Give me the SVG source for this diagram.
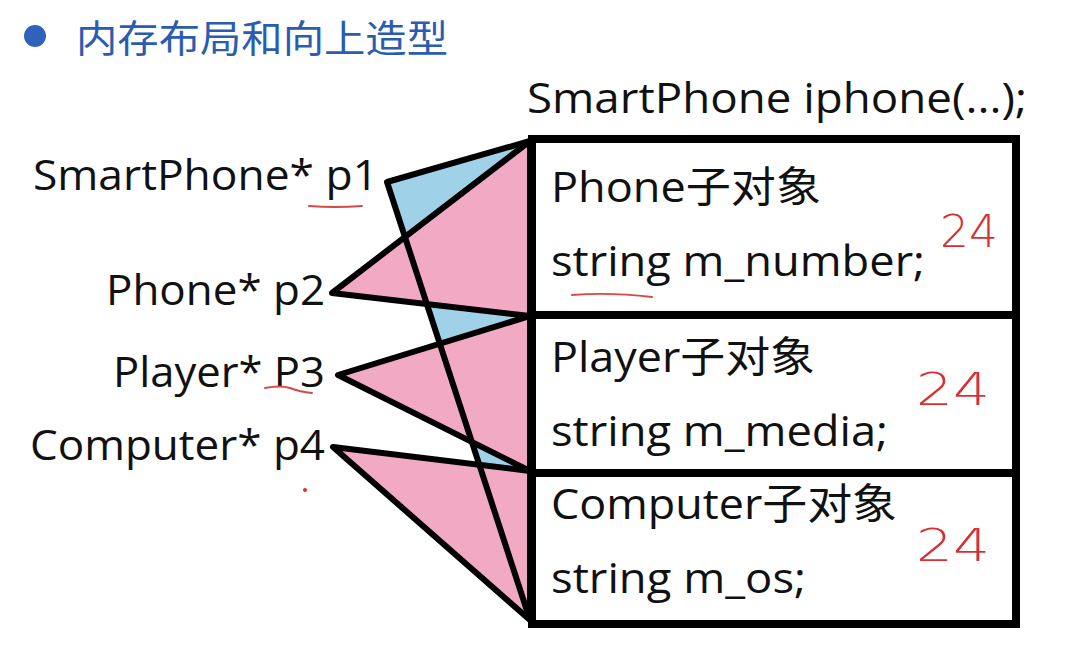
<svg xmlns="http://www.w3.org/2000/svg" width="1080" height="654" viewBox="0 0 1080 654">
<style>
.t{font-family:"Open Sans","Noto Sans CJK SC",sans-serif;font-size:42px;fill:#111}
.ttl{font-family:"Noto Sans CJK SC","Open Sans",sans-serif;font-size:38px;fill:#2a5db0}
.hw{font-family:"DejaVu Sans",sans-serif;font-weight:200;font-size:44px;fill:#d83030}
.ln{fill:none;stroke:#000;stroke-width:6;stroke-linejoin:round;stroke-linecap:round}
.blue{fill:#9fd2e8}
.pink{fill:#f2aac4}
.red{fill:none;stroke:#d84848;stroke-width:2;stroke-linecap:round}
.box{fill:#fff;stroke:#000;stroke-width:8}
</style>
<rect width="1080" height="654" fill="#fff"/>
<g id="title">
<circle cx="35" cy="36" r="11" fill="#2f63bb"/>
<text class="ttl" x="76" y="52" textLength="372" lengthAdjust="spacingAndGlyphs">内存布局和向上造型</text>
</g>
<g id="connectors">
<polygon class="blue" points="387,182 530,141 530,620"/>
<polygon class="pink" points="332,293 530,141 530,316"/>
<polygon class="pink" points="338,375 530,316 530,471"/>
<polygon class="pink" points="333,447 530,471 530,620"/>
<polygon class="ln" points="387,182 530,141 530,620"/>
<polygon class="ln" points="332,293 530,141 530,316"/>
<polygon class="ln" points="338,375 530,316 530,471"/>
<polygon class="ln" points="333,447 530,471 530,620"/>
</g>
<g id="p1"><text class="t" x="33" y="190" textLength="345" lengthAdjust="spacingAndGlyphs">SmartPhone* p1</text>
<path class="red" d="M309,206 Q335,208 362,206"/></g>
<g id="p2"><text class="t" x="106" y="305" textLength="219" lengthAdjust="spacingAndGlyphs">Phone* p2</text></g>
<g id="p3"><text class="t" x="113" y="387" textLength="212" lengthAdjust="spacingAndGlyphs">Player* P3</text>
<path class="red" d="M265,388 Q280,385 290,388 Q300,392 312,393"/></g>
<g id="p4"><text class="t" x="30" y="460" textLength="295" lengthAdjust="spacingAndGlyphs">Computer* p4</text>
<circle cx="305" cy="490" r="2" fill="#d83030"/></g>
<g id="iphone">
<text class="t" x="527" y="113" textLength="500" lengthAdjust="spacingAndGlyphs">SmartPhone iphone(...);</text>
<rect class="box" x="532" y="139" width="484" height="485"/>
<line x1="532" y1="315" x2="1016" y2="315" stroke="#000" stroke-width="8"/>
<line x1="532" y1="473" x2="1016" y2="473" stroke="#000" stroke-width="8"/>
</g>
<g id="phone-sub">
<text class="t" x="551" y="202" textLength="270" lengthAdjust="spacingAndGlyphs">Phone子对象</text>
<text class="t" x="551" y="276" textLength="374" lengthAdjust="spacingAndGlyphs">string m_number;</text>
<path class="red" d="M572,295 Q610,292 652,297"/>
<text class="hw" x="940" y="247" textLength="58" lengthAdjust="spacingAndGlyphs">24</text>
</g>
<g id="player-sub">
<text class="t" x="551" y="372" textLength="264" lengthAdjust="spacingAndGlyphs">Player子对象</text>
<text class="t" x="551" y="446" textLength="337" lengthAdjust="spacingAndGlyphs">string m_media;</text>
<text class="hw" x="916" y="405" textLength="74" lengthAdjust="spacingAndGlyphs">24</text>
</g>
<g id="computer-sub">
<text class="t" x="551" y="519" textLength="346" lengthAdjust="spacingAndGlyphs">Computer子对象</text>
<text class="t" x="551" y="593" textLength="255" lengthAdjust="spacingAndGlyphs">string m_os;</text>
<text class="hw" x="916" y="561" textLength="74" lengthAdjust="spacingAndGlyphs">24</text>
</g>
</svg>
